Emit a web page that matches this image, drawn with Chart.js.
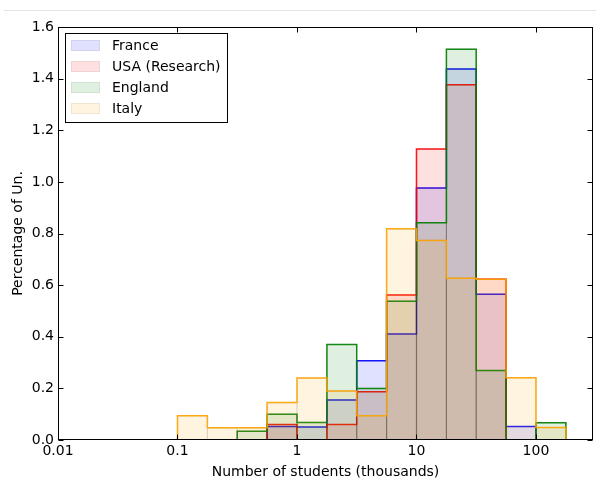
<!DOCTYPE html>
<html>
<head>
<meta charset="utf-8">
<script src="https://cdn.jsdelivr.net/npm/chart.js"></script>
<style>
  html, body { margin: 0; padding: 0; background: #ffffff; }
  #wrap { width: 596px; height: 479px; position: relative; }
</style>
</head>
<body>
<div id="wrap"><canvas id="c" width="596" height="479"></canvas></div>
<script>
// ---- data ----
const binEdges = [0.1, 0.178, 0.316, 0.562, 1, 1.78, 3.16, 5.62, 10, 17.8, 31.6, 56.2, 100, 178];
const seriesNames = ['France', 'USA (Research)', 'England', 'Italy'];
const france  = [0, 0, 0, 0.052, 0.05, 0.155, 0.307, 0.411, 0.976, 1.437, 0.565, 0.052, 0];
const usa     = [0, 0, 0, 0.06, 0, 0.06, 0.187, 0.562, 1.127, 1.376, 0.623, 0, 0];
const england = [0, 0, 0.034, 0.1, 0.068, 0.37, 0.2, 0.538, 0.842, 1.514, 0.269, 0, 0.067];
const italy   = [0.094, 0.047, 0.047, 0.145, 0.24, 0.19, 0.094, 0.818, 0.773, 0.627, 0.623, 0.241, 0.048];
const xTickValues = [0.01, 0.1, 1, 10, 100];
const xTickLabels = ['0.01', '0.1', '1', '10', '100'];
const yTickLabels = ['0.0', '0.2', '0.4', '0.6', '0.8', '1.0', '1.2', '1.4', '1.6'];

// ---- styling ----
const seriesValues = [france, usa, england, italy];
const rgb = ['0,0,255', '255,0,0', '0,128,0', '255,165,0'];
const FACE_A = 0.12;
const FONT = "'DejaVu Sans', sans-serif";
const FSIZE = 14;

function barOutline(vals) {
  const pts = [];
  vals.forEach((v, i) => {
    pts.push({x: binEdges[i], y: 0});
    pts.push({x: binEdges[i], y: v});
    pts.push({x: binEdges[i + 1], y: v});
    pts.push({x: binEdges[i + 1], y: 0});
  });
  return pts;
}
function stepOutline(vals) {
  const pts = [{x: binEdges[0], y: 0}];
  vals.forEach((v, i) => {
    pts.push({x: binEdges[i], y: v});
    pts.push({x: binEdges[i + 1], y: v});
  });
  pts.push({x: binEdges[binEdges.length - 1], y: 0});
  return pts;
}

const datasets = [];
let ord = 100;
seriesValues.forEach((vals, k) => {
  datasets.push({
    label: seriesNames[k],
    data: barOutline(vals),
    fill: 'origin',
    backgroundColor: 'rgba(' + rgb[k] + ',' + FACE_A + ')',
    borderColor: 'rgba(0,0,0,0.14)',
    borderWidth: 1.2,
    pointRadius: 0,
    tension: 0,
    order: ord--
  });
  datasets.push({
    label: seriesNames[k] + ' outline',
    data: stepOutline(vals),
    fill: false,
    borderColor: 'rgba(' + rgb[k] + ',0.9)',
    borderWidth: 1.5,
    pointRadius: 0,
    tension: 0,
    order: ord--
  });
});

const framePlugin = {
  id: 'frame',
  beforeDraw(chart) {
    const ctx = chart.ctx;
    ctx.save();
    ctx.strokeStyle = '#e4e4e4';
    ctx.lineWidth = 1;
    ctx.beginPath();
    ctx.moveTo(4, 10.5);
    ctx.lineTo(596, 10.5);
    ctx.stroke();
    ctx.restore();
  },
  afterDraw(chart) {
    const ctx = chart.ctx;
    const a = chart.chartArea;
    const xs = chart.scales.x, ys = chart.scales.y;
    ctx.save();
    ctx.strokeStyle = '#000';
    ctx.lineWidth = 1;
    const L = Math.round(a.left) + 0.5, R = Math.round(a.right) - 0.5;
    const T = Math.round(a.top) + 0.5, B = Math.round(a.bottom) - 0.5;
    ctx.strokeRect(L, T, R - L, B - T);
    ctx.beginPath();
    xTickValues.forEach(v => {
      const px = Math.round(xs.getPixelForValue(v)) + 0.5;
      ctx.moveTo(px, B); ctx.lineTo(px, B - 5);
      ctx.moveTo(px, T); ctx.lineTo(px, T + 5);
    });
    ys.ticks.forEach(t => {
      const py = Math.round(ys.getPixelForValue(t.value)) + 0.5;
      ctx.moveTo(L, py); ctx.lineTo(L + 5, py);
      ctx.moveTo(R, py); ctx.lineTo(R - 5, py);
    });
    ctx.stroke();

    // legend
    const lx = 65.5, ly = 33.5, lw = 162, lh = 89;
    ctx.fillStyle = '#fff';
    ctx.fillRect(lx, ly, lw, lh);
    ctx.strokeStyle = '#000';
    ctx.strokeRect(lx, ly, lw, lh);
    ctx.font = FSIZE + 'px ' + FONT;
    ctx.textBaseline = 'middle';
    ctx.textAlign = 'left';
    seriesNames.forEach((name, k) => {
      const cy = 45.5 + k * 21;
      ctx.fillStyle = 'rgba(' + rgb[k] + ',' + FACE_A + ')';
      ctx.fillRect(71, cy - 5.5, 29, 11);
      ctx.strokeStyle = 'rgba(0,0,0,0.06)';
      ctx.strokeRect(71.5, cy - 5, 28, 10);
      ctx.fillStyle = '#000';
      ctx.fillText(name, 112, cy + 0.5);
    });
    ctx.restore();
  }
};

new Chart(document.getElementById('c'), {
  type: 'line',
  data: { datasets },
  options: {
    responsive: false,
    animation: false,
    devicePixelRatio: 1,
    layout: { padding: { left: 0, right: 3, top: 27, bottom: 0 } },
    plugins: { legend: { display: false }, tooltip: { enabled: false } },
    elements: { line: { borderJoinStyle: 'miter' } },
    scales: {
      x: {
        type: 'logarithmic',
        min: 0.01,
        max: 300,
        grid: { display: false, drawTicks: false },
        border: { display: false },
        afterBuildTicks(scale) { scale.ticks = xTickValues.map(v => ({ value: v })); },
        afterFit(scale) { scale.height = 39; },
        ticks: {
          autoSkip: false,
          maxRotation: 0,
          padding: 3,
          color: '#000',
          font: { family: FONT, size: FSIZE },
          callback: (v) => { const i = xTickValues.indexOf(v); return i >= 0 ? xTickLabels[i] : ''; }
        },
        title: {
          display: true,
          text: 'Number of students (thousands)',
          color: '#000',
          font: { family: FONT, size: FSIZE, lineHeight: 1 },
          padding: { top: 0, bottom: 0 }
        }
      },
      y: {
        type: 'linear',
        min: 0,
        max: 1.6,
        grid: { display: false, drawTicks: false },
        border: { display: false },
        afterFit(scale) { scale.width = 58; },
        ticks: {
          stepSize: 0.2,
          padding: 4,
          color: '#000',
          font: { family: FONT, size: FSIZE },
          callback: (v) => yTickLabels[Math.round(v / 0.2)]
        },
        title: {
          display: true,
          text: 'Percentage of Un.',
          color: '#000',
          font: { family: FONT, size: FSIZE, lineHeight: 1 },
          padding: { top: 11, bottom: 0 }
        }
      }
    }
  },
  plugins: [framePlugin]
});
</script>
</body>
</html>
